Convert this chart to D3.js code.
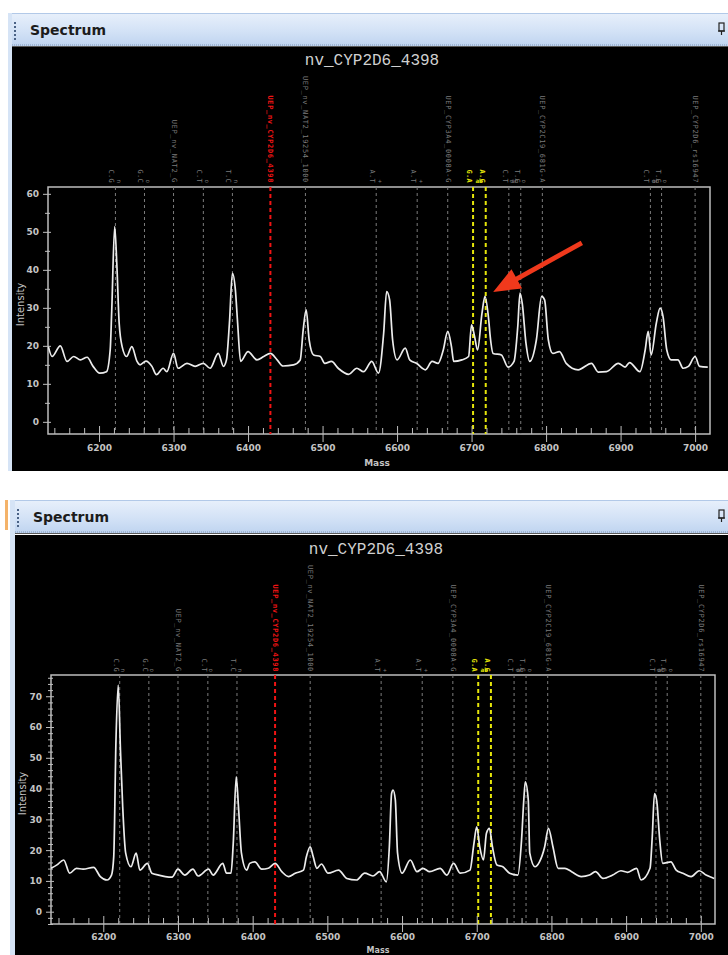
<!DOCTYPE html>
<html>
<head>
<meta charset="utf-8">
<script src="https://cdn.jsdelivr.net/npm/d3@7"></script>
<style>
  html, body { margin: 0; padding: 0; background: #ffffff; }
  svg { display: block; }
</style>
</head>
<body>
<svg id="chart" width="728" height="955"></svg>
<script>
// ---- Spectrum data -------------------------------------------------------
const windowTitle = "Spectrum";
const sampleTitle = "nv_CYP2D6_4398";

// upper spectrum: mass (Da) and intensity
const topMass = [6132, 6137, 6148, 6157, 6166, 6175, 6184, 6192, 6201, 6210, 6215, 6217, 6221, 6224, 6227, 6231, 6237, 6244, 6251, 6255, 6263, 6271, 6277, 6286, 6291, 6300, 6306, 6318, 6329, 6340, 6349, 6360, 6367, 6371, 6375, 6379, 6383, 6386, 6390, 6400, 6412, 6421, 6430, 6439, 6447, 6461, 6470, 6474, 6478, 6482, 6488, 6497, 6503, 6512, 6521, 6535, 6546, 6555, 6566, 6575, 6582, 6586, 6590, 6594, 6600, 6611, 6617, 6626, 6638, 6647, 6655, 6662, 6668, 6673, 6676, 6687, 6696, 6700, 6704, 6708, 6714, 6718, 6723, 6725, 6729, 6740, 6749, 6757, 6762, 6765, 6768, 6773, 6778, 6787, 6794, 6798, 6803, 6809, 6818, 6827, 6843, 6861, 6870, 6881, 6897, 6906, 6912, 6926, 6933, 6937, 6941, 6948, 6953, 6957, 6962, 6968, 6977, 6984, 6991, 7000, 7006, 7017];
const topIntensity = [19.8, 17.2, 20, 15.9, 17.2, 16.3, 17, 14.6, 12.8, 13.2, 19, 29, 51.4, 40.9, 26, 19.8, 17.2, 19.8, 15.9, 15, 16, 14.6, 12.4, 14.1, 13.2, 18, 14.1, 15.4, 14.6, 15.4, 14.1, 18, 14.6, 16.3, 26, 39.1, 34.7, 26, 15.9, 18.5, 16.3, 17.2, 18, 16.3, 14.7, 15, 16.3, 24.2, 29.5, 21.6, 17.6, 17.2, 15.4, 15.9, 14.1, 12.5, 14.1, 13.2, 15.9, 12.8, 23.3, 34.3, 32.1, 21.6, 16.3, 19.4, 16.3, 15.4, 13.7, 15.9, 15.4, 18.9, 23.8, 19.8, 15.9, 16.3, 17.2, 25.5, 22.5, 18.9, 28.6, 33, 26.8, 22.5, 18, 17.6, 14.4, 15.9, 25.1, 33.9, 31.2, 20.7, 15.9, 21.6, 33, 32.1, 21.6, 18, 18.5, 15.4, 13.7, 15.4, 13.1, 13.2, 15.4, 14.4, 15.6, 13.2, 18.9, 23.8, 17.6, 26, 29.9, 27.7, 18.9, 16.3, 16.3, 14.1, 14.6, 17.2, 14.6, 14.4];

// lower spectrum: mass (Da) and intensity
const bottomMass = [6130, 6138, 6147, 6155, 6164, 6173, 6187, 6196, 6205, 6211, 6214, 6217, 6220, 6223, 6226, 6230, 6237, 6244, 6249, 6259, 6265, 6274, 6283, 6292, 6300, 6309, 6320, 6327, 6341, 6347, 6360, 6365, 6371, 6374, 6378, 6381, 6385, 6392, 6396, 6403, 6412, 6421, 6430, 6439, 6448, 6457, 6468, 6472, 6477, 6481, 6486, 6492, 6501, 6515, 6526, 6539, 6550, 6561, 6570, 6579, 6583, 6586, 6588, 6591, 6594, 6600, 6611, 6620, 6628, 6637, 6651, 6660, 6669, 6678, 6691, 6696, 6700, 6704, 6709, 6713, 6717, 6721, 6727, 6735, 6744, 6755, 6760, 6763, 6765, 6769, 6771, 6778, 6784, 6791, 6796, 6802, 6809, 6818, 6827, 6840, 6851, 6859, 6869, 6882, 6893, 6902, 6914, 6920, 6932, 6935, 6938, 6941, 6945, 6949, 6960, 6967, 6976, 6987, 6998, 7007, 7018];
const bottomIntensity = [14.1, 15.2, 16.8, 12.5, 14.1, 13.8, 14.4, 11.4, 10.3, 11.9, 17.9, 55.7, 73.6, 52.5, 34.1, 19, 14.6, 19, 13.5, 15.7, 12.5, 11.9, 11.4, 11.2, 13.8, 11.9, 13.8, 11.6, 13.8, 11.9, 15.7, 12.5, 12.5, 22.2, 43.8, 34.1, 19, 13.5, 15.7, 16.2, 13.8, 14.1, 15.7, 13, 11.4, 12.5, 13.5, 17.9, 21.1, 17.9, 14.1, 15.5, 12.5, 13.5, 10.8, 10.3, 12.5, 11.6, 13, 9.7, 21.1, 38.4, 39.5, 36.3, 19, 12.5, 16.8, 13, 14.1, 13, 14.1, 11.9, 15.7, 12.5, 13.5, 21.7, 27.6, 21.1, 16.8, 25.5, 27.1, 21.1, 15.2, 14.6, 12.5, 11.9, 23.3, 36.3, 42.2, 36.3, 19, 14.6, 16.2, 21.1, 27.1, 21.1, 14.1, 14.1, 13, 11.4, 11.9, 13, 10.8, 11.9, 13.3, 12.8, 14.1, 10.3, 14.1, 24.4, 38.4, 36, 23.3, 15.7, 16.2, 13.5, 12.5, 11.4, 13.3, 11.9, 10.8];

// expected marker masses (shared by both spectra)
const markerMass = [6222, 6261, 6300, 6340, 6379, 6430, 6477, 6572, 6627, 6668, 6702, 6719, 6750, 6766, 6795, 6940, 6955, 7000];
const markerKind = ["allele", "allele", "uep", "allele", "allele", "target", "uep", "allele", "allele", "uep", "call", "call", "allele", "allele", "uep", "allele", "allele", "uep"];
const markerLabel = ["C.G", "G.C", "UEP_nv_NAT2_G", "C.T", "T.C", "UEP_nv_CYP2D6_4398", "UEP_nv_NAT2_19254_1000", "A.T", "A.T", "UEP_CYP3A4_0008A-G", "G.A", "A.G", "C.T", "T.C", "UEP_CYP2C19_681G-A", "C.T", "T.C", "UEP_CYP2D6_rs16947"];
const markerNote = ["n", "o", "", "o", "n", "", "", "+", "+", "", "", "", "o", "o", "", "o", "o", ""];
const pairMass = [6710, 6758, 6947];
const pairLabel = ["ab", "ab", "ab"];

const massTicks = [6200, 6300, 6400, 6500, 6600, 6700, 6800, 6900, 7000];
const topIntensityTicks = [0, 10, 20, 30, 40, 50, 60];
const bottomIntensityTicks = [0, 10, 20, 30, 40, 50, 60, 70];

// annotation arrow on the upper spectrum: [mass, intensity]
const arrowFrom = [6848, 47.1];
const arrowTo = [6729, 34.2];

// ---- Drawing -------------------------------------------------------------
const W = 728;
const svg = d3.select("#chart");

const defs = svg.append("defs");
const grad = defs.append("linearGradient").attr("id", "hdr")
  .attr("x1", 0).attr("y1", 0).attr("x2", 0).attr("y2", 1);
grad.append("stop").attr("offset", "0%").attr("stop-color", "#e8f0fb");
grad.append("stop").attr("offset", "55%").attr("stop-color", "#d3e2f6");
grad.append("stop").attr("offset", "100%").attr("stop-color", "#bfd4f0");

const colors = {
  allele: "#7c7c7c", uep: "#7c7c7c", target: "#f01414", call: "#e6e60a"
};

function drawPanel(L, mass, inten, yTicks, yMinorStep, id, arrow) {
  const g = svg.append("g");

  // window chrome
  g.append("rect").attr("x", L.stripX).attr("y", L.hy0)
    .attr("width", L.winX - L.stripX).attr("height", L.by1 - L.hy0)
    .attr("fill", "#d6e4f6");
  if (L.accent) {
    g.append("rect").attr("x", L.stripX - 5).attr("y", L.hy0)
      .attr("width", 3).attr("height", 30).attr("fill", "#f4b36a");
  }
  g.append("rect").attr("x", L.winX).attr("y", L.hy0)
    .attr("width", W - L.winX).attr("height", L.hy1 - L.hy0)
    .attr("fill", "url(#hdr)");
  g.append("line").attr("x1", L.winX).attr("x2", W)
    .attr("y1", L.hy0 + 0.5).attr("y2", L.hy0 + 0.5)
    .attr("stroke", "#b2c9e8");
  g.append("line").attr("x1", L.winX).attr("x2", W)
    .attr("y1", L.hy1 - 1).attr("y2", L.hy1 - 1)
    .attr("stroke", "#7f97b8").attr("stroke-dasharray", "1,1");
  g.append("line").attr("x1", L.winX).attr("x2", W)
    .attr("y1", L.hy1 + 0.5).attr("y2", L.hy1 + 0.5)
    .attr("stroke", "#5a5a5a");
  g.selectAll("rect.grip").data(d3.range(5)).join("rect").attr("class", "grip")
    .attr("x", L.winX + 2).attr("y", i => L.hy0 + 9 + i * 4)
    .attr("width", 2).attr("height", 2).attr("fill", "#4a6285");
  g.append("text").attr("x", L.winX + 18).attr("y", L.hy0 + 22)
    .attr("font-family", "DejaVu Sans").attr("font-weight", "bold")
    .attr("font-size", 14).attr("fill", "#1c1c1c").text(windowTitle);
  // pin glyph
  const pin = g.append("g").attr("transform", `translate(${W - 9},${L.hy0 + 10})`);
  pin.append("rect").attr("x", 0).attr("y", 0).attr("width", 5).attr("height", 8)
    .attr("fill", "none").attr("stroke", "#222").attr("stroke-width", 1.2);
  pin.append("line").attr("x1", -1).attr("x2", 6).attr("y1", 8).attr("y2", 8)
    .attr("stroke", "#222").attr("stroke-width", 1.2);
  pin.append("line").attr("x1", 2.5).attr("x2", 2.5).attr("y1", 8).attr("y2", 12)
    .attr("stroke", "#222").attr("stroke-width", 1.2);

  // black plot window
  g.append("rect").attr("x", L.winX).attr("y", L.by0)
    .attr("width", W - L.winX).attr("height", L.by1 - L.by0).attr("fill", "#000");

  g.append("text").attr("x", L.titleX).attr("y", L.titleY)
    .attr("text-anchor", "middle").attr("font-family", "Liberation Mono")
    .attr("font-size", 16).attr("fill", "#d0d0d0").text(sampleTitle);

  const x = d3.scaleLinear().domain(L.xDomain).range([L.fx0, L.fx1]);
  const y = d3.scaleLinear().domain(L.yDomain).range([L.fy1, L.fy0]);

  // frame
  g.append("rect").attr("x", L.fx0).attr("y", L.fy0)
    .attr("width", L.fx1 - L.fx0).attr("height", L.fy1 - L.fy0)
    .attr("fill", "none").attr("stroke", "#bdbdbd").attr("stroke-width", 1.5);

  // marker lines
  const markers = markerMass.map((m, i) => ({
    m, kind: markerKind[i], label: markerLabel[i], note: markerNote[i]
  }));
  g.selectAll("line.marker").data(markers).join("line").attr("class", "marker")
    .attr("x1", d => x(d.m)).attr("x2", d => x(d.m))
    .attr("y1", L.fy0).attr("y2", L.fy1)
    .attr("stroke", d => colors[d.kind])
    .attr("stroke-width", d => (d.kind === "target" || d.kind === "call") ? 2 : 1)
    .attr("stroke-dasharray", d => (d.kind === "target" || d.kind === "call") ? "4,3" : "3,3");

  // marker labels (rotated, reading downward)
  const lab = g.append("g");
  markers.forEach(d => {
    const long = d.kind === "uep" || d.kind === "target";
    const px = x(d.m);
    lab.append("text")
      .attr("transform", `translate(${long ? px : px - 4},${L.labelEnd}) rotate(90)`)
      .attr("text-anchor", "end").attr("dominant-baseline", "central")
      .attr("font-family", "DejaVu Sans Mono").attr("font-size", 7)
      .attr("letter-spacing", long ? 0.65 : 0.3)
      .attr("font-weight", (d.kind === "target" || d.kind === "call") ? "bold" : "normal")
      .attr("fill", colors[d.kind])
      .text(d.label);
    if (d.note) {
      lab.append("text")
        .attr("transform", `translate(${px + 4},${L.labelEnd}) rotate(90)`)
        .attr("text-anchor", "end").attr("dominant-baseline", "central")
        .attr("font-family", "DejaVu Sans Mono").attr("font-size", 6)
        .attr("fill", "#7c7c7c").text(d.note);
    }
  });
  pairMass.forEach((m, i) => {
    lab.append("text").attr("x", x(m)).attr("y", L.labelEnd)
      .attr("text-anchor", "middle").attr("font-family", "DejaVu Sans Mono")
      .attr("font-size", 6).attr("font-weight", i === 0 ? "bold" : "normal")
      .attr("fill", i === 0 ? colors.call : "#7c7c7c").text(pairLabel[i]);
  });

  // axes
  const axisStyle = sel => {
    sel.select(".domain").remove();
    sel.selectAll("line").attr("stroke", "#bdbdbd");
    sel.selectAll("text").attr("fill", "#c4c4c4")
      .attr("font-family", "DejaVu Sans").attr("font-weight", "bold").attr("font-size", 9);
  };
  const minorX = d3.range(6140, L.xDomain[1], 20).filter(v => !massTicks.includes(v));
  g.append("g").attr("transform", `translate(0,${L.fy1})`)
    .call(d3.axisBottom(x).tickValues(minorX).tickSize(-6).tickFormat(""))
    .call(axisStyle);
  g.append("g").attr("transform", `translate(0,${L.fy1})`)
    .call(d3.axisBottom(x).tickValues(massTicks).tickSize(8).tickPadding(L.xPad).tickFormat(d3.format("d")))
    .call(axisStyle)
    .call(s => s.selectAll(".tick line").attr("y1", -8));

  const minorY = d3.range(L.minorStart, L.yDomain[1], yMinorStep).filter(v => !yTicks.includes(v));
  g.append("g").attr("transform", `translate(${L.fx0},0)`)
    .call(d3.axisLeft(y).tickValues(minorY).tickSize(3).tickFormat(""))
    .call(axisStyle)
    .call(s => s.selectAll(".tick line").attr("x1", 2));
  g.append("g").attr("transform", `translate(${L.fx0},0)`)
    .call(d3.axisLeft(y).tickValues(yTicks).tickSize(5).tickPadding(4))
    .call(axisStyle)
    .call(s => s.selectAll(".tick line").attr("x1", 3));

  // axis titles
  g.append("text")
    .attr("transform", `translate(${L.yTitleX},${(L.fy0 + L.fy1) / 2 - 6}) rotate(-90)`)
    .attr("text-anchor", "middle").attr("font-family", "DejaVu Sans")
    .attr("font-size", 10).attr("fill", "#c4c4c4").text("Intensity");
  g.append("text").attr("x", L.xTitleX).attr("y", L.xTitleY)
    .attr("text-anchor", "middle").attr("font-family", "DejaVu Sans")
    .attr("font-weight", "bold").attr("font-size", L.xTitleSize).attr("fill", "#c4c4c4").text("Mass");

  // spectrum trace
  defs.append("clipPath").attr("id", id).append("rect")
    .attr("x", L.fx0).attr("y", L.fy0)
    .attr("width", L.fx1 - L.fx0).attr("height", L.fy1 - L.fy0);
  const line = d3.line().curve(d3.curveMonotoneX).x(d => x(d[0])).y(d => y(d[1]));
  g.append("path").datum(d3.zip(mass, inten))
    .attr("clip-path", `url(#${id})`)
    .attr("d", line).attr("fill", "none")
    .attr("stroke", "#ececec").attr("stroke-width", 1.7)
    .attr("stroke-linejoin", "round");

  if (arrow) {
    const P = [x(arrow.to[0]), y(arrow.to[1])];
    const T = [x(arrow.from[0]), y(arrow.from[1])];
    const dx = P[0] - T[0], dy = P[1] - T[1];
    const len = Math.hypot(dx, dy);
    const u = [dx / len, dy / len], n = [-u[1], u[0]];
    const headLen = 27, headW = 11, shaftW = 2.4;
    const B = [P[0] - u[0] * headLen, P[1] - u[1] * headLen];
    const pts = [
      [T[0] + n[0] * shaftW, T[1] + n[1] * shaftW],
      [B[0] + n[0] * shaftW, B[1] + n[1] * shaftW],
      [B[0] + n[0] * headW, B[1] + n[1] * headW],
      P,
      [B[0] - n[0] * headW, B[1] - n[1] * headW],
      [B[0] - n[0] * shaftW, B[1] - n[1] * shaftW],
      [T[0] - n[0] * shaftW, T[1] - n[1] * shaftW]
    ];
    g.append("path").attr("d", "M" + pts.map(p => p.join(",")).join("L") + "Z")
      .attr("fill", "#f0391c");
  }
}

drawPanel({
  stripX: 8, winX: 12, hy0: 13, hy1: 46, by0: 47, by1: 471,
  titleX: 372, titleY: 65,
  fx0: 48, fx1: 710, fy0: 187, fy1: 434,
  xDomain: [6131.5, 7020], yDomain: [-3.2, 61.8], minorStart: 0,
  labelEnd: 183, xPad: 3, yTitleX: 24, xTitleX: 377, xTitleY: 466, xTitleSize: 9
}, topMass, topIntensity, topIntensityTicks, 5, "clipTop", { from: arrowFrom, to: arrowTo });

drawPanel({
  stripX: 10, winX: 15, hy0: 500, hy1: 533, by0: 535, by1: 955, accent: true,
  titleX: 376, titleY: 554,
  fx0: 51, fx1: 715, fy0: 675, fy1: 924,
  xDomain: [6130, 7019], yDomain: [-4, 76.9], minorStart: -4,
  labelEnd: 672, xPad: 2, yTitleX: 26, xTitleX: 378, xTitleY: 953, xTitleSize: 8
}, bottomMass, bottomIntensity, bottomIntensityTicks, 2, "clipBottom", null);
</script>
</body>
</html>
